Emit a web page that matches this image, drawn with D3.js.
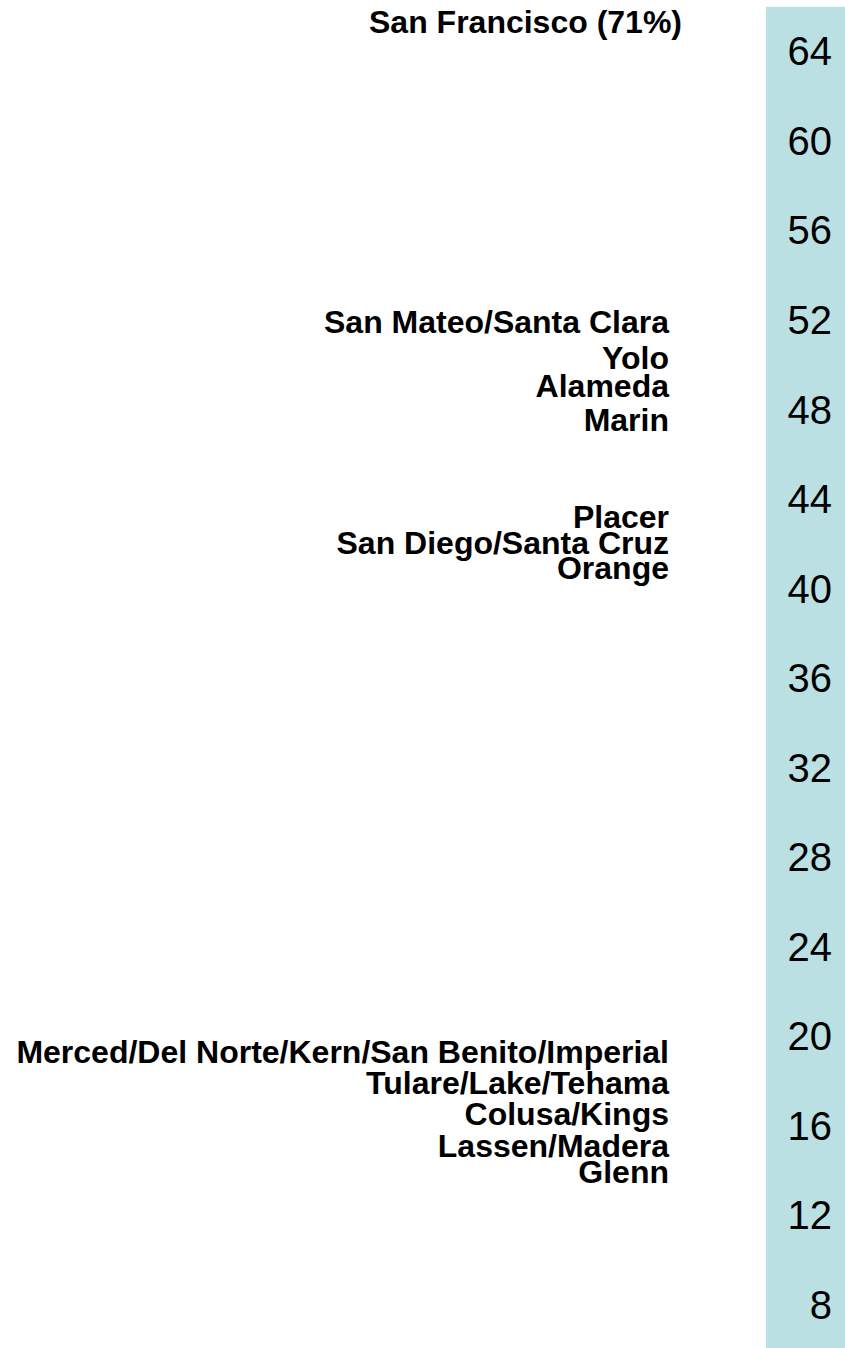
<!DOCTYPE html>
<html lang="en">
  <head>
    <meta charset="UTF-8" />
    <title>county labels on a percent scale</title>
    <style>
      body { margin: 0; background: #fff; }
      svg { display: block; }
    </style>
  </head>
  <body>
    <svg id="svg" width="845" height="1348"></svg>

    <script src="https://d3js.org/d3.v7.min.js"></script>
    <script>
      // tick labels on the right scale
      const tickValues = [64, 60, 56, 52, 48, 44, 40, 36, 32, 28, 24, 20, 16, 12, 8];

      // county names and the percent where each one sits
      const counties = [
        "San Francisco (71%)",
        "San Mateo/Santa Clara",
        "Yolo",
        "Alameda",
        "Marin",
        "Placer",
        "San Diego/Santa Cruz",
        "Orange",
        "Merced/Del Norte/Kern/San Benito/Imperial",
        "Tulare/Lake/Tehama",
        "Colusa/Kings",
        "Lassen/Madera",
        "Glenn",
      ];
      const percents = [71, 51.9, 50.3, 49.05, 47.5, 43.2, 42.0, 40.9, 19.3, 17.9, 16.5, 15.1, 13.9];

      const svg = d3.select("#svg");
      const width = 845;
      const height = 1348;

      // vertical scale, 64 at the top down to 8
      const y = d3.scaleLinear().domain([64, 8]).range([50.5, 1304]);

      const topCap = 65.3; // anything above this is pinned at the top edge
      const bandTop = 65.95;

      // light blue band behind the scale
      svg
        .append("rect")
        .attr("x", 766)
        .attr("y", y(bandTop))
        .attr("width", width - 766)
        .attr("height", height - y(bandTop))
        .attr("fill", "#bbe0e3");

      // scale numbers
      const axis = d3.axisLeft(y).tickValues(tickValues).tickSize(0).tickPadding(0);
      const gAxis = svg
        .append("g")
        .attr("transform", "translate(832,0)")
        .call(axis);
      gAxis.select(".domain").remove();
      gAxis
        .selectAll("text")
        .attr("dy", "0.36em")
        .style("font-family", "'Liberation Sans', Arial, sans-serif")
        .style("font-size", "40px")
        .style("fill", "#000");

      // county labels, right aligned
      const data = counties.map((name, i) => ({ name: name, value: percents[i] }));
      svg
        .append("g")
        .selectAll("text")
        .data(data)
        .enter()
        .append("text")
        .attr("x", (d) => (d.value > topCap ? 682 : 669))
        .attr("y", (d) => y(Math.min(d.value, topCap)))
        .attr("dy", "0.36em")
        .attr("text-anchor", "end")
        .style("font-family", "'Liberation Sans', Arial, sans-serif")
        .style("font-size", "32px")
        .style("font-weight", "bold")
        .style("fill", "#000")
        .text((d) => d.name);
    </script>
  </body>
</html>
